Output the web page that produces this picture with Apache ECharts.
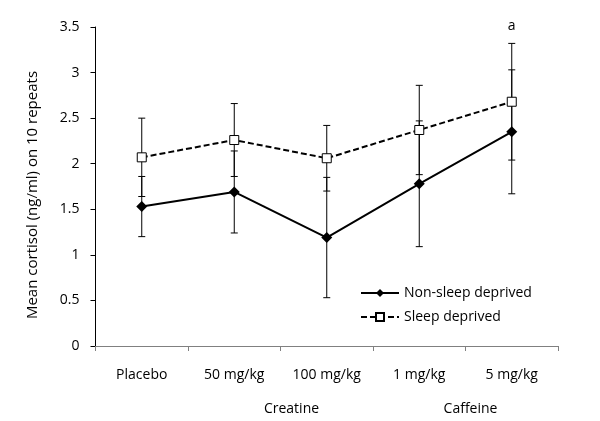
<!DOCTYPE html>
<html>
<head>
<meta charset="utf-8">
<script src="https://cdn.jsdelivr.net/npm/echarts@6/dist/echarts.min.js"></script>
<style>html,body{margin:0;padding:0;background:#fff}#c{width:600px;height:421px}</style>
</head>
<body>
<div id="c"></div>
<script>
const categories = ['Placebo', '50 mg/kg', '100 mg/kg', '1 mg/kg', '5 mg/kg'];
const groupLabels = ['Creatine', 'Caffeine'];
const nonSleep = [1.53, 1.69, 1.19, 1.78, 2.35];
const nonSleepErr = [0.33, 0.45, 0.66, 0.69, 0.68];
const sleep = [2.07, 2.26, 2.06, 2.37, 2.68];
const sleepErr = [0.43, 0.40, 0.36, 0.49, 0.64];
const yTicks = [0, 0.5, 1, 1.5, 2, 2.5, 3, 3.5];
const yTitle = 'Mean cortisol (ng/ml) on 10 repeats';
const annotation = 'a';

const FONT = 'Open Sans';
const FS = 14;
const chart = echarts.init(document.getElementById('c'), null, {renderer: 'canvas'});

function errData(means, errs) {
  return means.map((m, i) => [i, m - errs[i], m + errs[i]]);
}
function errRender(params, api) {
  const i = api.value(0);
  const lo = api.coord([i, api.value(1)]);
  const hi = api.coord([i, api.value(2)]);
  const w = 3.5;
  const st = {stroke: '#000', lineWidth: 1};
  return {
    type: 'group',
    children: [
      {type: 'line', shape: {x1: lo[0], y1: lo[1], x2: hi[0], y2: hi[1]}, style: st},
      {type: 'line', shape: {x1: lo[0] - w, y1: lo[1], x2: lo[0] + w, y2: lo[1]}, style: st},
      {type: 'line', shape: {x1: hi[0] - w, y1: hi[1], x2: hi[0] + w, y2: hi[1]}, style: st}
    ]
  };
}

chart.setOption({
  animation: false,
  textStyle: {fontFamily: FONT},
  grid: {left: 95.5, right: 42, top: 27, bottom: 75},
  legend: {
    orient: 'vertical',
    left: 355,
    top: 281,
    itemWidth: 38,
    itemHeight: 10,
    itemGap: 10,
    textStyle: {fontFamily: FONT, fontSize: FS, color: '#000'},
    data: ['Non-sleep deprived', 'Sleep deprived']
  },
  xAxis: {
    type: 'category',
    data: categories,
    boundaryGap: true,
    axisLine: {lineStyle: {color: '#808080', width: 1}},
    axisTick: {show: true, length: 5, lineStyle: {color: '#808080'}},
    axisLabel: {fontFamily: FONT, fontSize: FS, color: '#000', margin: 22}
  },
  yAxis: {
    type: 'value',
    min: 0,
    max: 3.5,
    interval: 0.5,
    axisLine: {show: true, lineStyle: {color: '#000', width: 1}},
    axisTick: {show: true, length: 5, lineStyle: {color: '#000'}},
    splitLine: {show: false},
    axisLabel: {fontFamily: FONT, fontSize: FS, color: '#000', margin: 16,
      formatter: v => yTicks.includes(v) ? String(v) : ''}
  },
  series: [
    {
      type: 'custom', name: 'errNS', renderItem: errRender,
      data: errData(nonSleep, nonSleepErr), encode: {x: 0, y: [1, 2]}, z: 1, silent: true
    },
    {
      type: 'custom', name: 'errS', renderItem: errRender,
      data: errData(sleep, sleepErr), encode: {x: 0, y: [1, 2]}, z: 1, silent: true
    },
    {
      type: 'line', name: 'Non-sleep deprived', data: nonSleep, z: 3,
      symbol: 'diamond', symbolSize: 11,
      itemStyle: {color: '#000'},
      lineStyle: {color: '#000', width: 2}
    },
    {
      type: 'line', name: 'Sleep deprived', data: sleep, z: 3,
      symbol: 'rect', symbolSize: 9,
      itemStyle: {color: '#fff', borderColor: '#000', borderWidth: 1},
      lineStyle: {color: '#000', width: 2, type: [6, 3]}
    }
  ]
});

function placeTexts() {
  const c1 = chart.convertToPixel({xAxisIndex: 0}, 1);
  const c2 = chart.convertToPixel({xAxisIndex: 0}, 2);
  const c3 = chart.convertToPixel({xAxisIndex: 0}, 3);
  const c4 = chart.convertToPixel({xAxisIndex: 0}, 4);
  const top = chart.convertToPixel({yAxisIndex: 0}, 3.5);
  const txt = (t, x, y, extra) => Object.assign({type: 'text', x: x, y: y,
    style: {text: t, fill: '#000', font: FS + 'px "' + FONT + '"', textAlign: 'center', textVerticalAlign: 'middle'}}, extra || {});
  chart.setOption({
    graphic: [
      txt(groupLabels[0], (c1 + c2) / 2 + 11, 409),
      txt(groupLabels[1], (c3 + c4) / 2 + 5, 409),
      txt(annotation, c4, top - 1),
      {type: 'text', x: 33, y: 195, rotation: Math.PI / 2,
        style: {text: yTitle, fill: '#000', font: '15px "' + FONT + '"', textAlign: 'center', textVerticalAlign: 'middle'}}
    ]
  });
}
placeTexts();
</script>
</body>
</html>
